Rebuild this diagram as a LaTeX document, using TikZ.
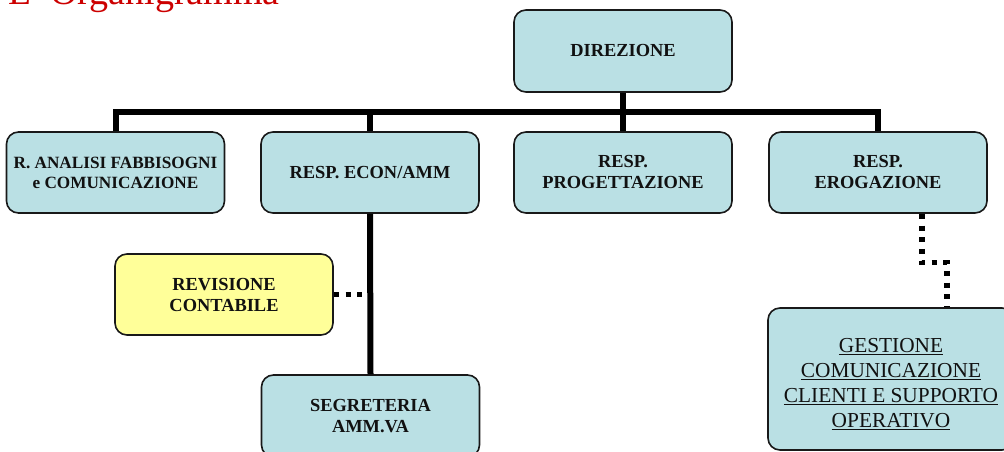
\documentclass[tikz,border=0pt]{standalone}
\usepackage{fontspec}
\setmainfont{Liberation Serif}
\usetikzlibrary{calc}
\definecolor{boxblue}{RGB}{186,224,228}
\definecolor{boxyellow}{RGB}{255,255,153}
\definecolor{titlered}{RGB}{204,0,0}
\definecolor{txt}{RGB}{17,17,17}
\tikzset{
  orgbox/.style={draw=black!90, line width=1.2pt, rounded corners=9pt, fill=boxblue,
    minimum width=163.5pt, minimum height=60.75pt, align=center, inner sep=2pt,
    text=txt, font=\fontsize{13.8}{15.75}\selectfont\bfseries},
  yellowbox/.style={orgbox, fill=boxyellow},
  solidlink/.style={line width=4.5pt, black},
  dotlink/.style={line width=3.8pt, black, dash pattern=on 3.8pt off 5pt},
}
\begin{document}
\begin{tikzpicture}[x=0.75pt,y=-0.75pt]
\useasboundingbox (0,0) rectangle (1004,452);
\clip (0,0) rectangle (1004,452);
% title
\node[anchor=base west, inner sep=0pt, text=titlered, font=\fontsize{28.5}{30}\selectfont] (title) at (8,5) {L' Organigramma};
% boxes
\node[orgbox, minimum height=61.5pt] (dir) at (623,51) {DIREZIONE};
\node[orgbox, font=\fontsize{12.9}{15}\selectfont\bfseries] (b1) at (115.5,172.5) {R. ANALISI FABBISOGNI\\e COMUNICAZIONE};
\node[orgbox] (b2) at (370,172.5) {RESP. ECON/AMM};
\node[orgbox] (b3) at (623,172.5) {RESP.\\PROGETTAZIONE};
\node[orgbox] (b4) at (878,172.5) {RESP.\\EROGAZIONE};
\node[yellowbox] (rev) at (224,294.5) {REVISIONE\\CONTABILE};
\node[orgbox, minimum height=61.5pt] (seg) at (370.5,416) {SEGRETERIA\\AMM.VA};
\node[orgbox, minimum width=184.5pt, minimum height=106.5pt, font=\fontsize{16}{18.6}\selectfont] (gest) at (891,379)
  {\rule{0pt}{18.5pt}\underline{GESTIONE}\\\underline{COMUNICAZIONE}\\\underline{CLIENTI E SUPPORTO}\\\underline{OPERATIVO}};
% tree connectors
\coordinate (barL) at (115.5,112);
\coordinate (barR) at (878,112);
\draw[solidlink, line cap=rect] (barL) -- (barR);
\draw[solidlink] (dir.south) -- (dir.south |- barL);
\draw[solidlink] (b1.north |- barL) -- (b1.north);
\draw[solidlink] (b2.north |- barL) -- (b2.north);
\draw[solidlink] (b3.north |- barL) -- (b3.north);
\draw[solidlink] (b4.north |- barL) -- (b4.north);
\draw[solidlink] (b2.south) -- (seg.north);
% dotted connectors
\draw[dotlink] (rev.east) -- (rev.east -| b2.south);
\draw[dotlink] ([xshift=33pt]b4.south) -- ++(0,49) -| ([xshift=42pt]gest.north);
\end{tikzpicture}
\end{document}
